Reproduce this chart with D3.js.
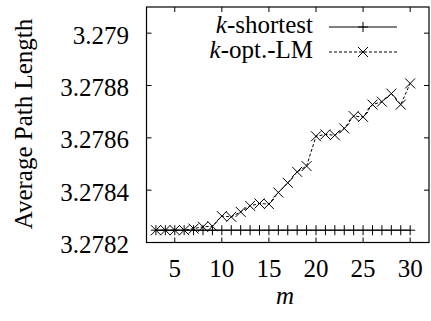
<!DOCTYPE html>
<html>
<head>
<meta charset="utf-8">
<script src="https://cdn.jsdelivr.net/npm/d3@7"></script>
<style>
  svg text, svg tspan { font-family: 'Liberation Serif', 'Times New Roman', serif !important; }
</style>
</head>
<body style="margin:0">
<svg id="c" width="431" height="321"></svg>
<script>
const mValues = [3,4,5,6,7,8,9,10,11,12,13,14,15,16,17,18,19,20,21,22,23,24,25,26,27,28,29,30];
const kShortest = [3.278247,3.278247,3.278247,3.278247,3.278247,3.278247,3.278247,3.278247,3.278247,3.278247,3.278247,3.278247,3.278247,3.278247,3.278247,3.278247,3.278247,3.278247,3.278247,3.278247,3.278247,3.278247,3.278247,3.278247,3.278247,3.278247,3.278247,3.278247];
const kOptLM = [3.278247,3.278247,3.278247,3.278247,3.278253,3.27826,3.278262,3.278301,3.278298,3.278317,3.27834,3.278349,3.278347,3.278391,3.278428,3.27847,3.278492,3.278606,3.278613,3.27861,3.278636,3.278683,3.27868,3.278727,3.278738,3.278769,3.278727,3.278808];
const xTicks = [5,10,15,20,25,30];
const yTicks = [3.2782,3.2784,3.2786,3.2788,3.279];
const yTickLabels = ["3.2782","3.2784","3.2786","3.2788","3.279"];

const FS = 25;
const svg = d3.select("#c");
const L = 146.5, R = 429, T = 7, B = 242.5;
const x = d3.scaleLinear().domain([2, 32]).range([L, R]);
const y = d3.scaleLinear().domain([3.2782, 3.2791]).range([B, T]);

function styleText(sel) {
  return sel.style("font-family", "'Liberation Serif', 'Times New Roman', serif", "important")
    .attr("font-size", FS);
}

// frame
svg.append("rect").attr("x", L).attr("y", T).attr("width", R - L).attr("height", B - T)
  .attr("fill", "none").attr("stroke", "#000").attr("stroke-width", 1.2);

// inward ticks on all four sides, from the scales
const tk = svg.append("g").attr("stroke", "#000").attr("stroke-width", 1);
xTicks.forEach(v => {
  tk.append("line").attr("x1", x(v)).attr("x2", x(v)).attr("y1", B).attr("y2", B - 5);
  tk.append("line").attr("x1", x(v)).attr("x2", x(v)).attr("y1", T).attr("y2", T + 5);
});
yTicks.forEach(v => {
  tk.append("line").attr("y1", y(v)).attr("y2", y(v)).attr("x1", L).attr("x2", L + 5);
  tk.append("line").attr("y1", y(v)).attr("y2", y(v)).attr("x1", R).attr("x2", R - 5);
});

xTicks.forEach(v => {
  styleText(svg.append("text").attr("x", x(v)).attr("y", 277).attr("text-anchor", "middle")).text(String(v));
});
yTicks.forEach((v, i) => {
  styleText(svg.append("text").attr("x", 129).attr("y", y(v) + 10.5).attr("text-anchor", "end")).text(yTickLabels[i]);
});

// axis titles
styleText(svg.append("text").attr("transform", "translate(32,124) rotate(-90)")
  .attr("text-anchor", "middle")).text("Average Path Length");
styleText(svg.append("text").attr("x", 285).attr("y", 304).attr("text-anchor", "middle"))
  .attr("font-style", "italic").text("m");

// series
const line = d3.line().x((d, i) => x(mValues[i])).y(d => y(d));
svg.append("path").datum(kShortest).attr("d", line)
  .attr("fill", "none").attr("stroke", "#000").attr("stroke-width", 1);
svg.append("path").datum(kOptLM).attr("d", line)
  .attr("fill", "none").attr("stroke", "#000").attr("stroke-width", 1).attr("stroke-dasharray", "3,2");

const S = 5;
function plus(g, cx, cy) {
  g.append("path").attr("d", `M${cx - S},${cy}H${cx + S}M${cx},${cy - S}V${cy + S}`)
    .attr("stroke", "#000").attr("stroke-width", 1).attr("fill", "none");
}
function cross(g, cx, cy) {
  g.append("path").attr("d", `M${cx - S},${cy - S}L${cx + S},${cy + S}M${cx - S},${cy + S}L${cx + S},${cy - S}`)
    .attr("stroke", "#000").attr("stroke-width", 1).attr("fill", "none");
}
const gm = svg.append("g");
kShortest.forEach((v, i) => plus(gm, x(mValues[i]), y(v)));
kOptLM.forEach((v, i) => cross(gm, x(mValues[i]), y(v)));

// legend
const lg = svg.append("g");
const rows = [{name: "-shortest", y: 27, dash: null, mk: plus}, {name: "-opt.-LM", y: 52, dash: "3,2", mk: cross}];
rows.forEach(r => {
  const t = styleText(lg.append("text").attr("x", 313).attr("y", r.y + 6).attr("text-anchor", "end"));
  t.append("tspan").attr("font-style", "italic").text("k");
  t.append("tspan").text(r.name);
  lg.append("line").attr("x1", 329).attr("x2", 397).attr("y1", r.y).attr("y2", r.y)
    .attr("stroke", "#000").attr("stroke-width", 1).attr("stroke-dasharray", r.dash);
  r.mk(lg, 363, r.y);
});
</script>
</body>
</html>
